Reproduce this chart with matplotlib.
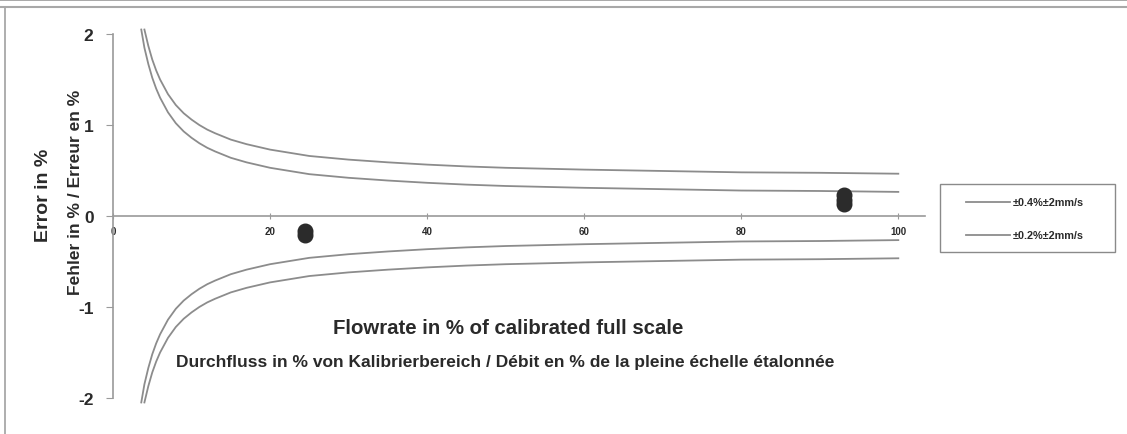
import matplotlib.pyplot as plt
import numpy as np
from matplotlib.lines import Line2D
from matplotlib.patches import Rectangle

plt.rcParams["font.family"] = ["Liberation Sans", "DejaVu Sans"]
plt.rcParams["font.weight"] = "bold"

# error envelopes, upper half; lower half is the mirror
flow_outer = [4, 4.5, 5, 5.5, 6, 6.5, 7, 8, 9, 10, 11, 12, 13, 15, 17, 20, 25,
              30, 35, 40, 45, 50, 60, 70, 80, 90, 100]
err_outer = [2.05, 1.87, 1.72, 1.60, 1.50, 1.42, 1.34, 1.22, 1.13, 1.06, 1.00,
             0.95, 0.91, 0.84, 0.79, 0.73, 0.66, 0.62, 0.59, 0.565, 0.545,
             0.53, 0.51, 0.495, 0.48, 0.475, 0.465]
flow_inner = [3.6, 4, 4.5, 5, 5.5, 6, 6.5, 7, 8, 9, 10, 11, 12, 13, 15, 17, 20,
              25, 30, 35, 40, 45, 50, 60, 70, 80, 90, 100]
err_inner = [2.05, 1.85, 1.67, 1.52, 1.40, 1.30, 1.22, 1.14, 1.02, 0.93, 0.86,
             0.80, 0.75, 0.71, 0.64, 0.59, 0.53, 0.46, 0.42, 0.39, 0.365,
             0.345, 0.33, 0.31, 0.295, 0.28, 0.275, 0.265]

# measured points
meas_flow = [24.5, 24.5, 93.1, 93.1, 93.1]
meas_err = [-0.17, -0.205, 0.13, 0.18, 0.235]

legend_labels = ["±0.4%±2mm/s", "±0.2%±2mm/s"]
x_ticks = [0, 20, 40, 60, 80, 100]
y_ticks = [-2, -1, 0, 1, 2]

line_col = "#8c8c8c"
txt_col = "#2a2a2a"
W, H = 1127, 435

fig = plt.figure(figsize=(W / 100, H / 100), dpi=100)
ax = fig.add_axes([113 / W, 27 / H, 812 / W, 382 / H])

ax.plot(flow_outer, err_outer, color=line_col, lw=1.3)
ax.plot(flow_outer, -np.array(err_outer), color=line_col, lw=1.3)
ax.plot(flow_inner, err_inner, color=line_col, lw=1.3)
ax.plot(flow_inner, -np.array(err_inner), color=line_col, lw=1.3)
ax.plot(meas_flow, meas_err, "o", color="#2b2b2b", ms=10.5, ls="none")

ax.set_xlim(0, 103.4)
ax.set_ylim(-2.1, 2.1)

for s in ["top", "right"]:
    ax.spines[s].set_visible(False)
ax.spines["bottom"].set_position(("data", 0))
ax.spines["left"].set_bounds(-2, 2)
for s in ["bottom", "left"]:
    ax.spines[s].set_color("#9a9a9a")
    ax.spines[s].set_linewidth(1.2)

ax.set_xticks(x_ticks)
ax.set_xticklabels([str(t) for t in x_ticks], fontsize=7, color=txt_col)
ax.set_yticks(y_ticks)
ax.set_yticklabels([str(t) for t in y_ticks], fontsize=12.5, color=txt_col)
ax.tick_params(axis="x", direction="inout", length=5, color="#9a9a9a", pad=5)
ax.tick_params(axis="y", direction="out", length=5, color="#9a9a9a", pad=9)

fig.text(43 / W, 1 - 195 / H, "Error in %", rotation=90, ha="center",
         va="center", fontsize=14, color=txt_col)
fig.text(75 / W, 1 - 192 / H, "Fehler in % / Erreur en %", rotation=90,
         ha="center", va="center", fontsize=12.5, color=txt_col)
fig.text(508 / W, 1 - 329 / H, "Flowrate in % of calibrated full scale",
         ha="center", va="center", fontsize=14.7, color=txt_col)
fig.text(505 / W, 1 - 363 / H,
         "Durchfluss in % von Kalibrierbereich / Débit en % de la pleine échelle étalonnée",
         ha="center", va="center", fontsize=12.5, color=txt_col)

# legend box drawn by hand to match the spacing of the original
fig.add_artist(Rectangle((940 / W, 1 - 253 / H), 175 / W, 68 / H,
                         transform=fig.transFigure, fill=False,
                         edgecolor="#8a8a8a", lw=1.0))
for label, row_y in zip(legend_labels, [203, 236]):
    fy = 1 - row_y / H
    fig.add_artist(Line2D([966 / W, 1010 / W], [fy, fy], color=line_col,
                          lw=1.3, transform=fig.transFigure))
    fig.text(1013 / W, fy, label, ha="left", va="center", fontsize=7.8,
             color=txt_col)

# outer chart frame
fig.add_artist(Line2D([0, 1], [1 - 1 / H, 1 - 1 / H], color="#9a9a9a",
                      lw=1.2, transform=fig.transFigure))
fig.add_artist(Line2D([0, 1], [1 - 8 / H, 1 - 8 / H], color="#a8a8a8",
                      lw=1.5, transform=fig.transFigure))
fig.add_artist(Line2D([5 / W, 5 / W], [0, 1 - 8 / H], color="#a8a8a8",
                      lw=1.3, transform=fig.transFigure))

fig.savefig("out.png", dpi=100, facecolor="white")
